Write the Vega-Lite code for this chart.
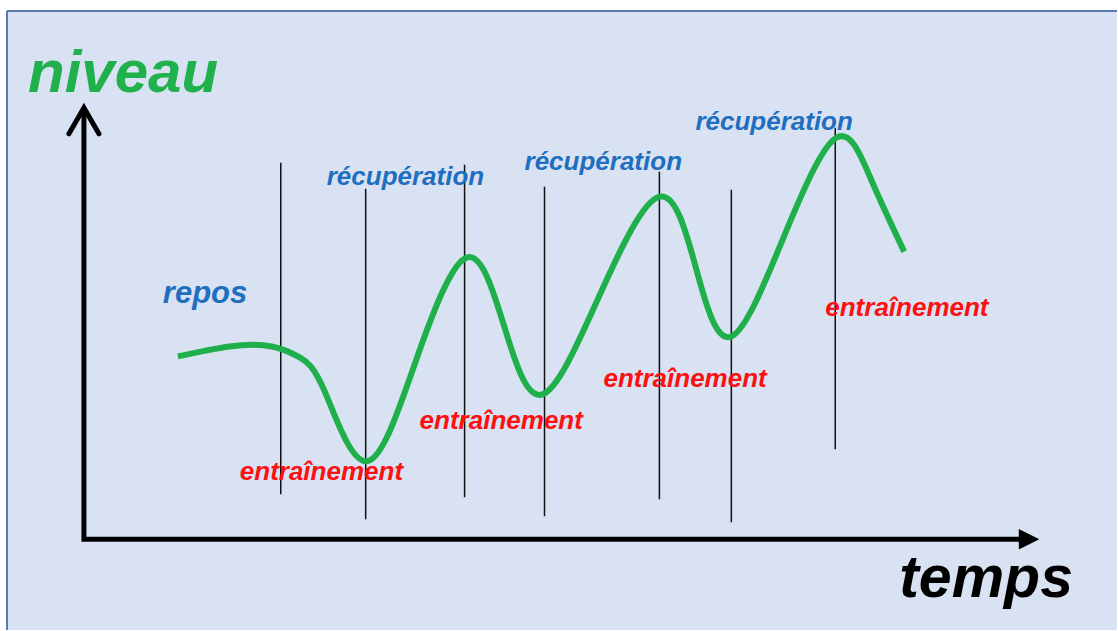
{
  "$schema": "https://vega.github.io/schema/vega-lite/v6.json",
  "autosize": {"type": "fit", "contains": "padding"},
  "width": 1118,
  "height": 631,
  "padding": 0,
  "background": "#ffffff",
  "config": {"view": {"stroke": null}},
  "datasets": {
    "frame": [{"x": 7, "x2": 1118, "y": 11, "y2": 631}],
    "border": [
      {"side": "left", "x": 7, "x2": 7, "y": 11, "y2": 631},
      {"side": "top", "x": 7, "x2": 1118, "y": 11, "y2": 11}
    ],
    "axes": [
      {"part": "shaft", "order": 1, "t": 84, "n": 108},
      {"part": "shaft", "order": 2, "t": 84, "n": 540},
      {"part": "shaft", "order": 3, "t": 1028, "n": 540}
    ],
    "chevron": [
      {"order": 1, "t": 69, "n": 134},
      {"order": 2, "t": 84, "n": 108},
      {"order": 3, "t": 99, "n": 134}
    ],
    "head": [{"t": 1030, "n": 540}],
    "curve": [
      {"t": 178, "n": 357}, {"t": 230, "n": 347}, {"t": 272, "n": 347}, {"t": 300, "n": 358},
      {"t": 325, "n": 392}, {"t": 367, "n": 462}, {"t": 416, "n": 362}, {"t": 467, "n": 258},
      {"t": 505, "n": 328}, {"t": 543, "n": 395}, {"t": 600, "n": 296}, {"t": 660, "n": 197},
      {"t": 697, "n": 270}, {"t": 732, "n": 337}, {"t": 785, "n": 236}, {"t": 837, "n": 138},
      {"t": 872, "n": 180}, {"t": 905, "n": 252}
    ],
    "rules": [
      {"t": 281, "top": 163, "bottom": 495},
      {"t": 366, "top": 189, "bottom": 520},
      {"t": 465, "top": 165, "bottom": 498},
      {"t": 545, "top": 187, "bottom": 517},
      {"t": 660, "top": 172, "bottom": 500},
      {"t": 732, "top": 190, "bottom": 523},
      {"t": 836, "top": 128, "bottom": 450}
    ],
    "labels": [
      {"label": "niveau", "kind": "ytitle", "t": 28, "n": 92},
      {"label": "temps", "kind": "xtitle", "t": 900, "n": 598},
      {"label": "repos", "kind": "blue", "t": 163, "n": 303},
      {"label": "récupération", "kind": "blue", "t": 327, "n": 185},
      {"label": "récupération", "kind": "blue", "t": 525, "n": 170},
      {"label": "récupération", "kind": "blue", "t": 696, "n": 130},
      {"label": "entraînement", "kind": "red", "t": 240, "n": 481},
      {"label": "entraînement", "kind": "red", "t": 420, "n": 430},
      {"label": "entraînement", "kind": "red", "t": 604, "n": 388},
      {"label": "entraînement", "kind": "red", "t": 826, "n": 317}
    ]
  },
  "layer": [
    {
      "data": {"name": "frame"},
      "mark": {"type": "rect", "fill": "#d9e2f3"},
      "encoding": {
        "x": {"field": "x", "type": "quantitative", "scale": {"domain": [0, 1118]}, "axis": null},
        "x2": {"field": "x2"},
        "y": {"field": "y", "type": "quantitative", "scale": {"domain": [0, 631], "reverse": true}, "axis": null},
        "y2": {"field": "y2"}
      }
    },
    {
      "data": {"name": "border"},
      "mark": {"type": "rule", "color": "#5a7bb0", "strokeWidth": 2},
      "encoding": {
        "x": {"field": "x", "type": "quantitative", "scale": {"domain": [0, 1118]}, "axis": null},
        "x2": {"field": "x2"},
        "y": {"field": "y", "type": "quantitative", "scale": {"domain": [0, 631], "reverse": true}, "axis": null},
        "y2": {"field": "y2"}
      }
    },
    {
      "data": {"name": "rules"},
      "mark": {"type": "rule", "color": "#111111", "strokeWidth": 1.5},
      "encoding": {
        "x": {"field": "t", "type": "quantitative", "scale": {"domain": [0, 1118]}, "axis": null},
        "y": {"field": "top", "type": "quantitative", "scale": {"domain": [0, 631], "reverse": true}, "axis": null},
        "y2": {"field": "bottom"}
      }
    },
    {
      "data": {"name": "axes"},
      "mark": {"type": "line", "color": "#000000", "strokeWidth": 5, "strokeJoin": "miter", "strokeCap": "butt"},
      "encoding": {
        "x": {"field": "t", "type": "quantitative", "scale": {"domain": [0, 1118]}, "axis": null},
        "y": {"field": "n", "type": "quantitative", "scale": {"domain": [0, 631], "reverse": true}, "axis": null},
        "order": {"field": "order"}
      }
    },
    {
      "data": {"name": "chevron"},
      "mark": {"type": "line", "color": "#000000", "strokeWidth": 5, "strokeJoin": "miter", "strokeCap": "round"},
      "encoding": {
        "x": {"field": "t", "type": "quantitative", "scale": {"domain": [0, 1118]}, "axis": null},
        "y": {"field": "n", "type": "quantitative", "scale": {"domain": [0, 631], "reverse": true}, "axis": null},
        "order": {"field": "order"}
      }
    },
    {
      "data": {"name": "head"},
      "mark": {"type": "point", "shape": "M-1,-1L1,0L-1,1Z", "filled": true, "color": "#000000", "opacity": 1, "size": 420},
      "encoding": {
        "x": {"field": "t", "type": "quantitative", "scale": {"domain": [0, 1118]}, "axis": null},
        "y": {"field": "n", "type": "quantitative", "scale": {"domain": [0, 631], "reverse": true}, "axis": null}
      }
    },
    {
      "data": {"name": "curve"},
      "mark": {"type": "line", "color": "#1fb04b", "strokeWidth": 6, "interpolate": "natural", "strokeCap": "butt"},
      "encoding": {
        "x": {"field": "t", "type": "quantitative", "scale": {"domain": [0, 1118]}, "axis": null},
        "y": {"field": "n", "type": "quantitative", "scale": {"domain": [0, 631], "reverse": true}, "axis": null}
      }
    },
    {
      "data": {"name": "labels"},
      "transform": [{"filter": "datum.kind === 'ytitle'"}],
      "mark": {"type": "text", "align": "left", "baseline": "alphabetic", "font": "Liberation Sans", "fontStyle": "italic", "fontWeight": "bold", "fontSize": 60, "color": "#20b04c"},
      "encoding": {
        "x": {"field": "t", "type": "quantitative", "scale": {"domain": [0, 1118]}, "axis": null},
        "y": {"field": "n", "type": "quantitative", "scale": {"domain": [0, 631], "reverse": true}, "axis": null},
        "text": {"field": "label"}
      }
    },
    {
      "data": {"name": "labels"},
      "transform": [{"filter": "datum.kind === 'xtitle'"}],
      "mark": {"type": "text", "align": "left", "baseline": "alphabetic", "font": "Liberation Sans", "fontStyle": "italic", "fontWeight": "bold", "fontSize": 59, "color": "#000000"},
      "encoding": {
        "x": {"field": "t", "type": "quantitative", "scale": {"domain": [0, 1118]}, "axis": null},
        "y": {"field": "n", "type": "quantitative", "scale": {"domain": [0, 631], "reverse": true}, "axis": null},
        "text": {"field": "label"}
      }
    },
    {
      "data": {"name": "labels"},
      "transform": [{"filter": "datum.kind === 'blue' && datum.label === 'repos'"}],
      "mark": {"type": "text", "align": "left", "baseline": "alphabetic", "font": "Liberation Sans", "fontStyle": "italic", "fontWeight": "bold", "fontSize": 31, "color": "#1f6fc0"},
      "encoding": {
        "x": {"field": "t", "type": "quantitative", "scale": {"domain": [0, 1118]}, "axis": null},
        "y": {"field": "n", "type": "quantitative", "scale": {"domain": [0, 631], "reverse": true}, "axis": null},
        "text": {"field": "label"}
      }
    },
    {
      "data": {"name": "labels"},
      "transform": [{"filter": "datum.kind === 'blue' && datum.label !== 'repos'"}],
      "mark": {"type": "text", "align": "left", "baseline": "alphabetic", "font": "Liberation Sans", "fontStyle": "italic", "fontWeight": "bold", "fontSize": 26, "color": "#1f6fc0"},
      "encoding": {
        "x": {"field": "t", "type": "quantitative", "scale": {"domain": [0, 1118]}, "axis": null},
        "y": {"field": "n", "type": "quantitative", "scale": {"domain": [0, 631], "reverse": true}, "axis": null},
        "text": {"field": "label"}
      }
    },
    {
      "data": {"name": "labels"},
      "transform": [{"filter": "datum.kind === 'red'"}],
      "mark": {"type": "text", "align": "left", "baseline": "alphabetic", "font": "Liberation Sans", "fontStyle": "italic", "fontWeight": "bold", "fontSize": 26, "color": "#ff1010"},
      "encoding": {
        "x": {"field": "t", "type": "quantitative", "scale": {"domain": [0, 1118]}, "axis": null},
        "y": {"field": "n", "type": "quantitative", "scale": {"domain": [0, 631], "reverse": true}, "axis": null},
        "text": {"field": "label"}
      }
    }
  ]
}
